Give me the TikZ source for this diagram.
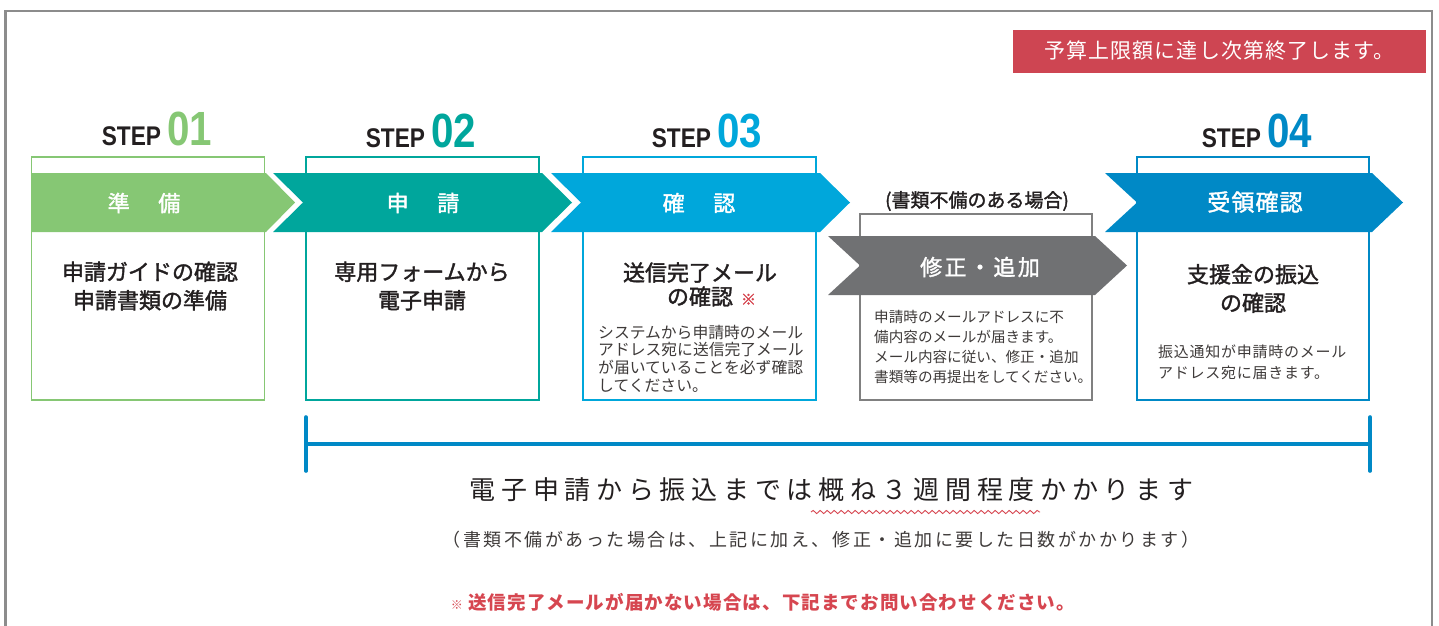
\documentclass[tikz,border=0pt]{standalone}
\usepackage{fontspec}
\setmainfont{Noto Sans CJK JP}
\newfontfamily\jpmid[FakeBold=1.6]{Noto Sans CJK JP}
\newfontfamily\stepfont[FakeStretch=0.84]{Liberation Sans}
\usetikzlibrary{decorations.pathmorphing}

\definecolor{green01}{RGB}{134,199,116}
\definecolor{teal02}{RGB}{0,166,156}
\definecolor{sky03}{RGB}{0,167,219}
\definecolor{blue04}{RGB}{0,137,198}
\definecolor{fixgray}{RGB}{112,113,115}
\definecolor{boxgray}{RGB}{128,128,128}
\definecolor{bannerred}{RGB}{206,69,82}
\definecolor{notered}{RGB}{214,70,80}
\definecolor{framegray}{RGB}{140,140,140}
\definecolor{txtdark}{RGB}{35,31,32}
\definecolor{txtmid}{RGB}{62,58,57}

\newcommand{\stepno}[2]{{\fontsize{48}{48}\selectfont\textcolor{#1}{#2}}}

\tikzset{
  stepbox/.style={draw, line width=1.4pt, minimum width=233pt, minimum height=243pt, inner sep=0},
  bandtext/.style={text=white, inner sep=0, font=\jpmid\fontsize{22}{22}\selectfont},
  steplabel/.style={anchor=base, inner sep=0, text=txtdark, font=\stepfont\bfseries\fontsize{27}{27}\selectfont},
  title/.style={align=center, inner sep=0, text=txtdark, font=\jpmid\fontsize{22}{28.5}\selectfont},
  note/.style={align=left, anchor=west, inner sep=0, text=txtmid, font=\fontsize{15.8}{17.7}\selectfont},
}

\begin{document}
\begin{tikzpicture}[x=1pt,y=-1pt]
\useasboundingbox (0,0) rectangle (1439,625);
\draw[framegray, line width=2.5pt] (5.5,630) -- (5.5,11) -- (1432,11) -- (1432,630);

% banner
\node[fill=bannerred, minimum width=413pt, minimum height=43pt, inner sep=0, text=white,
  font=\fontsize{21}{21}\selectfont\addfontfeature{LetterSpace=5}] (limit) at (1219.5,51) {予算上限額に達し次第終了します。};

% step boxes
\node[stepbox, draw=green01] (box1) at (148,278.5) {};
\node[stepbox, draw=teal02] (box2) at (422.5,278.5) {};
\node[stepbox, draw=sky03] (box3) at (699.5,278.5) {};
\node[stepbox, draw=blue04, minimum width=232pt] (box4) at (1253,278.5) {};
\node[stepbox, draw=boxgray, minimum width=232pt, minimum height=186pt] (boxfix) at (976,307) {};

% arrow bands
\fill[green01] (31,173) -- (266,173) -- (295,202.5) -- (266,232) -- (31,232) -- cycle;
\fill[teal02] (273,173) -- (542,173) -- (572,202.5) -- (542,232) -- (273,232) -- (303,202.5) -- cycle;
\fill[sky03] (551,173) -- (820,173) -- (850,202.5) -- (820,232) -- (551,232) -- (581,202.5) -- cycle;
\fill[fixgray] (828,236) -- (1095,236) -- (1127,265.5) -- (1095,295) -- (828,295) -- (860,265.5) -- cycle;
\fill[blue04] (1105,173) -- (1372,173) -- (1403,202.5) -- (1372,232) -- (1105,232) -- (1137,202.5) -- cycle;

\node[bandtext] (band1) at (144,203) {準\hspace{1.3em}備};
\node[bandtext] (band2) at (423,203) {申\hspace{1.3em}請};
\node[bandtext] (band3) at (699,203) {確\hspace{1.3em}認};
\node[bandtext, font=\jpmid\fontsize{23}{23}\selectfont\addfontfeature{LetterSpace=5}] (band4) at (1255,202) {受領確認};
\node[bandtext, font=\jpmid\fontsize{22}{22}\selectfont\addfontfeature{LetterSpace=11}] (bandfix) at (980,267) {修正・追加};

% step labels
\node[steplabel] (step1) at (157,145) {STEP \stepno{green01}{01}};
\node[steplabel] (step2) at (421,147) {STEP \stepno{teal02}{02}};
\node[steplabel] (step3) at (707,147) {STEP \stepno{sky03}{03}};
\node[steplabel] (step4) at (1257,147) {STEP \stepno{blue04}{04}};
\node[inner sep=0, text=txtdark, font=\jpmid\fontsize{19}{19}\selectfont] (ifneed) at (977,201) {(書類不備のある場合)};

% box texts
\node[title] (t1) at (150,286) {申請ガイドの確認\\申請書類の準備};
\node[title] (t2) at (422,286) {専用フォームから\\電子申請};
\node[title, font=\jpmid\fontsize{22}{24}\selectfont] (t3) at (700,284.5)
  {送信完了メール\\の確認\rlap{\hspace{8pt}\textcolor{notered}{\fontsize{15}{15}\selectfont ※}}};
\node[title] (t4) at (1253,288.5) {支援金の振込\\の確認};

\node[note] (n3) at (598,358.5) {システムから申請時のメール\\アドレス宛に送信完了メール\\が届いていることを必ず確認\\してください。};
\node[note, font=\fontsize{14.6}{20}\selectfont] (nfix) at (874,347) {申請時のメールアドレスに不\\備内容のメールが届きます。\\メール内容に従い、修正・追加\\書類等の再提出をしてください。};
\node[note, font=\fontsize{15}{21}\selectfont\addfontfeature{LetterSpace=5}] (n4) at (1158,362.5) {振込通知が申請時のメール\\アドレス宛に届きます。};

% period bracket
\coordinate (brL) at (306,444);
\coordinate (brR) at (1370,444);
\draw[blue04, line width=4pt] (brL) -- (brR);
\draw[blue04, line width=3.6pt, line cap=round] (306,417) -- (306,471);
\draw[blue04, line width=3.6pt, line cap=round] (1370,417) -- (1370,471);

% bottom notes
\node[inner sep=0, text=txtdark, font=\fontsize{26}{26}\selectfont\addfontfeature{LetterSpace=22}] (lead) at (831.5,490) {電子申請から振込までは概ね３週間程度かかります};
\coordinate (wl) at (811,512);
\coordinate (wr) at (1040,512);
\draw[notered, line width=0.9pt, decorate, decoration={snake, amplitude=1.6pt, segment length=7pt}] (wl) -- (wr);
\node[inner sep=0, text=txtmid, font=\fontsize{18}{18}\selectfont\addfontfeature{LetterSpace=14}] (sub) at (821,540) {（書類不備があった場合は、上記に加え、修正・追加に要した日数がかかります）};
\node[inner sep=0, text=notered, font=\bfseries\fontsize{18.5}{18.5}\selectfont\addfontfeature{LetterSpace=6}] (warn) at (763,602) {{\fontsize{12}{12}\selectfont ※} 送信完了メールが届かない場合は、下記までお問い合わせください。};
\end{tikzpicture}
\end{document}
